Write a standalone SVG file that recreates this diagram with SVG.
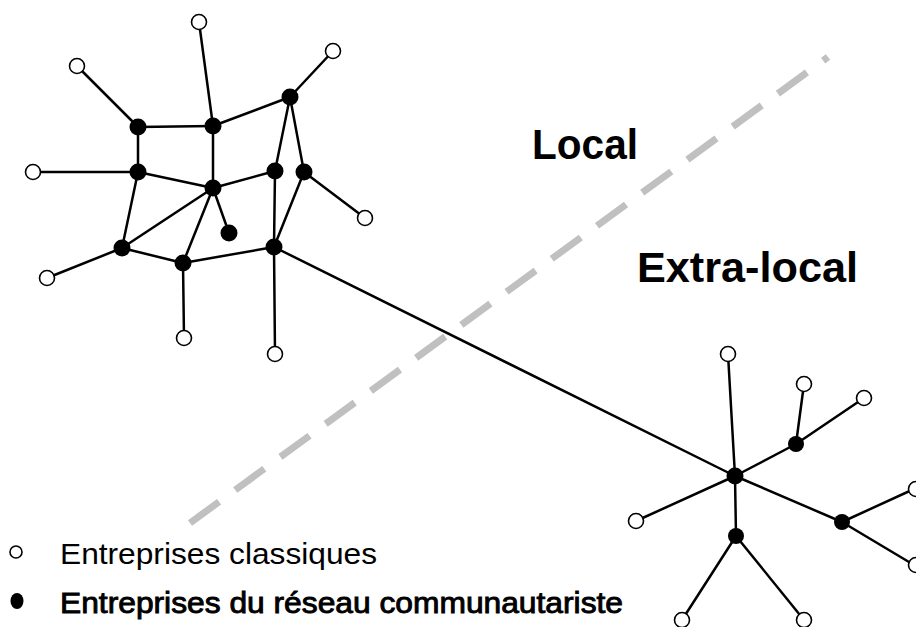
<svg xmlns="http://www.w3.org/2000/svg" width="916" height="627" viewBox="0 0 916 627">
<style>
.e{stroke:#000;stroke-width:2.5;fill:none;stroke-linecap:round}
.b{fill:#000}
.o{fill:#fff;stroke:#000;stroke-width:1.6}
.big{font-family:"Liberation Sans",Arial,sans-serif;font-weight:bold;font-size:42px;fill:#000}
.leg{font-family:"Liberation Sans",Arial,sans-serif;font-size:29px;fill:#000}
</style>
<rect width="916" height="627" fill="#fff"/>
<path d="M190 523 L828 57" stroke="#c0c0c0" stroke-width="7" stroke-dasharray="36 20" fill="none"/>
<g id="connectors" class="e">
<line x1="199" y1="22" x2="213" y2="126"/>
<line x1="77" y1="66" x2="138" y2="127"/>
<line x1="333" y1="51" x2="290" y2="97"/>
<line x1="33" y1="172" x2="138" y2="172"/>
<line x1="365" y1="218" x2="304" y2="172"/>
<line x1="47" y1="278" x2="122" y2="248"/>
<line x1="184" y1="338" x2="183" y2="263"/>
<line x1="275" y1="354" x2="274" y2="247"/>
<line x1="138" y1="127" x2="213" y2="126"/>
<line x1="138" y1="127" x2="138" y2="172"/>
<line x1="213" y1="126" x2="290" y2="97"/>
<line x1="213" y1="126" x2="213" y2="188"/>
<line x1="290" y1="97" x2="275" y2="171"/>
<line x1="290" y1="97" x2="304" y2="172"/>
<line x1="138" y1="172" x2="213" y2="188"/>
<line x1="138" y1="172" x2="122" y2="248"/>
<line x1="213" y1="188" x2="275" y2="171"/>
<line x1="213" y1="188" x2="122" y2="248"/>
<line x1="213" y1="188" x2="183" y2="263"/>
<line x1="213" y1="188" x2="229" y2="233"/>
<line x1="275" y1="171" x2="274" y2="247"/>
<line x1="304" y1="172" x2="274" y2="247"/>
<line x1="122" y1="248" x2="183" y2="263"/>
<line x1="183" y1="263" x2="274" y2="247"/>
<line x1="274" y1="247" x2="735" y2="476"/>
<line x1="735" y1="476" x2="728" y2="354"/>
<line x1="735" y1="476" x2="796" y2="444"/>
<line x1="796" y1="444" x2="804" y2="384"/>
<line x1="796" y1="444" x2="864" y2="398"/>
<line x1="735" y1="476" x2="636" y2="521"/>
<line x1="735" y1="476" x2="736" y2="536"/>
<line x1="736" y1="536" x2="682" y2="620"/>
<line x1="736" y1="536" x2="804" y2="620"/>
<line x1="735" y1="476" x2="842" y2="522"/>
<line x1="842" y1="522" x2="914" y2="489"/>
<line x1="842" y1="522" x2="914" y2="565"/>
</g>
<g id="n-o1"><circle class="o" cx="199" cy="22" r="7.5"/></g>
<g id="n-o2"><circle class="o" cx="77" cy="66" r="7.5"/></g>
<g id="n-o3"><circle class="o" cx="333" cy="51" r="7.5"/></g>
<g id="n-o4"><circle class="o" cx="33" cy="172" r="7.5"/></g>
<g id="n-o5"><circle class="o" cx="365" cy="218" r="7.5"/></g>
<g id="n-o6"><circle class="o" cx="47" cy="278" r="7.5"/></g>
<g id="n-o7"><circle class="o" cx="184" cy="338" r="7.5"/></g>
<g id="n-o8"><circle class="o" cx="275" cy="354" r="7.5"/></g>
<g id="n-b1"><circle class="b" cx="138" cy="127" r="8.5"/></g>
<g id="n-b2"><circle class="b" cx="213" cy="126" r="8.5"/></g>
<g id="n-b3"><circle class="b" cx="290" cy="97" r="8.5"/></g>
<g id="n-b4"><circle class="b" cx="138" cy="172" r="8.5"/></g>
<g id="n-b5"><circle class="b" cx="213" cy="188" r="8.5"/></g>
<g id="n-b6"><circle class="b" cx="275" cy="171" r="8.5"/></g>
<g id="n-b7"><circle class="b" cx="304" cy="172" r="8.5"/></g>
<g id="n-b8"><circle class="b" cx="229" cy="233" r="8.5"/></g>
<g id="n-b9"><circle class="b" cx="122" cy="248" r="8.5"/></g>
<g id="n-b10"><circle class="b" cx="183" cy="263" r="8.5"/></g>
<g id="n-b11"><circle class="b" cx="274" cy="247" r="8.5"/></g>
<g id="n-c"><circle class="b" cx="735" cy="476" r="8.5"/></g>
<g id="n-r1"><circle class="b" cx="796" cy="444" r="8"/></g>
<g id="n-r2"><circle class="b" cx="736" cy="536" r="8"/></g>
<g id="n-r3"><circle class="b" cx="842" cy="522" r="8"/></g>
<g id="n-o9"><circle class="o" cx="728" cy="354" r="7.5"/></g>
<g id="n-o10"><circle class="o" cx="804" cy="384" r="7.5"/></g>
<g id="n-o11"><circle class="o" cx="864" cy="398" r="7.5"/></g>
<g id="n-o12"><circle class="o" cx="636" cy="521" r="7.5"/></g>
<g id="n-o13"><circle class="o" cx="682" cy="620" r="7.5"/></g>
<g id="n-o14"><circle class="o" cx="804" cy="620" r="7.5"/></g>
<g id="n-o15"><circle class="o" cx="916" cy="489" r="7.5"/></g>
<g id="n-o16"><circle class="o" cx="916" cy="565" r="7.5"/></g>
<g id="labels">
<text class="big" x="532" y="159" textLength="106" lengthAdjust="spacingAndGlyphs">Local</text>
<text class="big" x="637" y="282" textLength="221" lengthAdjust="spacingAndGlyphs">Extra-local</text>
</g>
<g id="legend">
<circle class="o" cx="16" cy="552" r="6"/>
<ellipse class="b" cx="17" cy="601" rx="6.5" ry="8"/>
<text class="leg" x="60" y="564" textLength="317" lengthAdjust="spacingAndGlyphs">Entreprises classiques</text>
<text class="leg" x="60" y="613" textLength="563" lengthAdjust="spacingAndGlyphs" stroke="#000" stroke-width="0.9">Entreprises du réseau communautariste</text>
</g>
</svg>
